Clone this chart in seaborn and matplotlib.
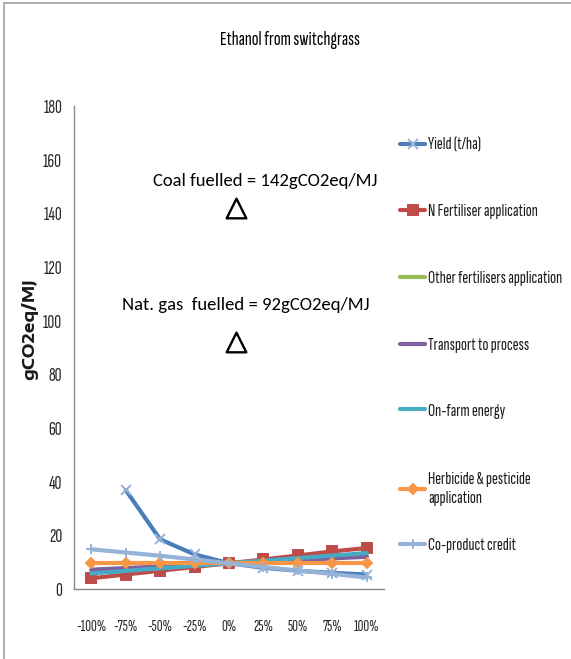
import numpy as np
import pandas as pd
import matplotlib
matplotlib.use("Agg")
import matplotlib.pyplot as plt
import seaborn as sns
from matplotlib.lines import Line2D

# ---------------- data ----------------
categories = ["-100%", "-75%", "-50%", "-25%", "0%", "25%", "50%", "75%", "100%"]
yield_tha = [np.nan, 36.9, 18.5, 12.9, 9.6, 7.9, 6.8, 6.0, 5.4]
n_fert = [4.0, 5.4, 6.8, 8.2, 9.6, 11.0, 12.5, 14.0, 15.3]
other_fert = [6.5, 7.3, 8.0, 8.8, 9.6, 10.4, 11.1, 11.9, 12.7]
transport = [7.2, 7.8, 8.4, 9.0, 9.6, 10.2, 10.8, 11.4, 12.0]
on_farm = [5.8, 6.75, 7.7, 8.65, 9.6, 10.55, 11.5, 12.45, 13.4]
herbicide = [9.6, 9.6, 9.6, 9.6, 9.6, 9.6, 9.6, 9.6, 9.6]
coproduct = [14.8, 13.6, 12.4, 11.0, 9.6, 8.2, 6.9, 5.6, 4.3]

series_names = ["Yield (t/ha)", "N Fertiliser application", "Other fertilisers application",
                "Transport to process", "On-farm energy",
                "Herbicide & pesticide\napplication", "Co-product credit"]
series_values = [yield_tha, n_fert, other_fert, transport, on_farm, herbicide, coproduct]

ref_labels = ["Coal fuelled = 142gCO2eq/MJ", "Nat. gas  fuelled = 92gCO2eq/MJ"]
ref_values = [142, 92]
title = "Ethanol from switchgrass"
ylabel = "gCO2eq/MJ"

# ---------------- style ----------------
colors = ["#4A7EBB", "#BE4B48", "#98B954", "#7D60A0", "#46AAC5", "#F79646", "#95B3D7"]
marker_colors = ["#95B3D7", "#BE4B48", None, None, None, "#F79646", "#95B3D7"]
markers = ["x", "s", None, None, None, "D", "+"]
msizes = [7, 6.5, 0, 0, 0, 5, 7]
legend_centers_px = [145, 211, 278, 345, 411, 489, 545]

sns.set_theme(style="white")
cond = ["Sofia Sans Extra Condensed", "Fira Sans Extra Condensed", "PT Sans Narrow", "DejaVu Sans"]
plt.rcParams["font.family"] = cond
wide_bold = ["Encode Sans Expanded", "DejaVu Sans"]

W, H = 571, 659
fig = plt.figure(figsize=(W / 100, H / 100), dpi=100)
renderer = fig.canvas.get_renderer()


def size_for(s, target_px, family, weight="normal", base=10.0):
    t = fig.text(0, 0, s, fontsize=base, family=family, weight=weight)
    w = t.get_window_extent(renderer).width
    t.remove()
    return base * target_px / w


ax = fig.add_axes([74 / W, 70 / H, 310 / W, 483 / H])

pos = list(range(len(categories)))
handles = []
for name, vals, c, mc, m, ms in zip(series_names, series_values, colors, marker_colors, markers, msizes):
    df = pd.DataFrame({"pos": pos, "val": vals}).dropna()
    kw = dict(color=c, linewidth=3.0)
    if m:
        kw.update(marker=m, markersize=ms, markerfacecolor=mc, markeredgecolor=mc, markeredgewidth=1.4)
    sns.lineplot(data=df, x="pos", y="val", ax=ax, legend=False, **kw)
    handles.append(Line2D([0], [0], **kw))

# reference triangles and texts
ref_x = 4.2
ax.scatter([ref_x] * len(ref_values), ref_values, marker="^", s=200,
           facecolors="white", edgecolors="black", linewidths=1.7, zorder=5)
carl = ["Carlito", "DejaVu Sans"]
fs_coal = size_for(ref_labels[0], 225, carl)
fs_gas = size_for(ref_labels[1], 248, carl)
fig.text(265 / W, 1 - 181 / H, ref_labels[0], ha="center", va="center", fontsize=fs_coal,
         family=carl, color="black")
fig.text(246 / W, 1 - 305 / H, ref_labels[1], ha="center", va="center", fontsize=fs_gas,
         family=carl, color="black")

ax.set_xlim(-0.5, len(categories) - 0.5)
ax.set_ylim(0, 180)
ax.set_yticks(np.arange(0, 181, 20))
ax.set_xticks(pos)
ax.set_xticklabels(categories)
fs_x = size_for("-100%", 30, cond)
fs_y = size_for("180", 19, cond)
ax.tick_params(axis="x", length=0, pad=22, labelsize=fs_x, colors="#262626")
ax.tick_params(axis="y", length=0, pad=8.6, labelsize=fs_y, colors="#262626")
ax.set_xlabel("")
fs_yl = size_for(ylabel, 102, wide_bold, weight="bold")
ax.set_ylabel(ylabel, fontsize=fs_yl, fontweight="bold", family=wide_bold, color="#1a1a1a")
ax.yaxis.set_label_coords(-0.116, 0.538)

for s in ["top", "right"]:
    ax.spines[s].set_visible(False)
for s in ["left", "bottom"]:
    ax.spines[s].set_color("#898989")
    ax.spines[s].set_linewidth(1.0)
ax.grid(False)

fs_t = size_for(title, 140, cond)
fig.text(290 / W, 1 - 40 / H, title, ha="center", va="center", fontsize=fs_t, color="black")

fs_leg = size_for("Other fertilisers application", 135, cond)
fs_px = fs_leg * 100 / 72
for h, name, yc in zip(handles, series_names, legend_centers_px):
    leg = fig.legend([h], [name], loc="center left", bbox_to_anchor=(400 / W, 1 - yc / H),
                     frameon=False, borderpad=0, borderaxespad=0, handlelength=25 / fs_px,
                     handletextpad=3 / fs_px, fontsize=fs_leg)
    for t in leg.get_texts():
        t.set_linespacing(1.3)
        t.set_color("#1a1a1a")

# outer frame (left and top)
fig.add_artist(Line2D([4 / W, 4 / W], [0, 1 - 3 / H], color="#A0A0A0", linewidth=1.2,
                      transform=fig.transFigure))
fig.add_artist(Line2D([4 / W, 1], [1 - 3 / H, 1 - 3 / H], color="#A0A0A0", linewidth=1.2,
                      transform=fig.transFigure))

fig.savefig("out.png", dpi=100)
